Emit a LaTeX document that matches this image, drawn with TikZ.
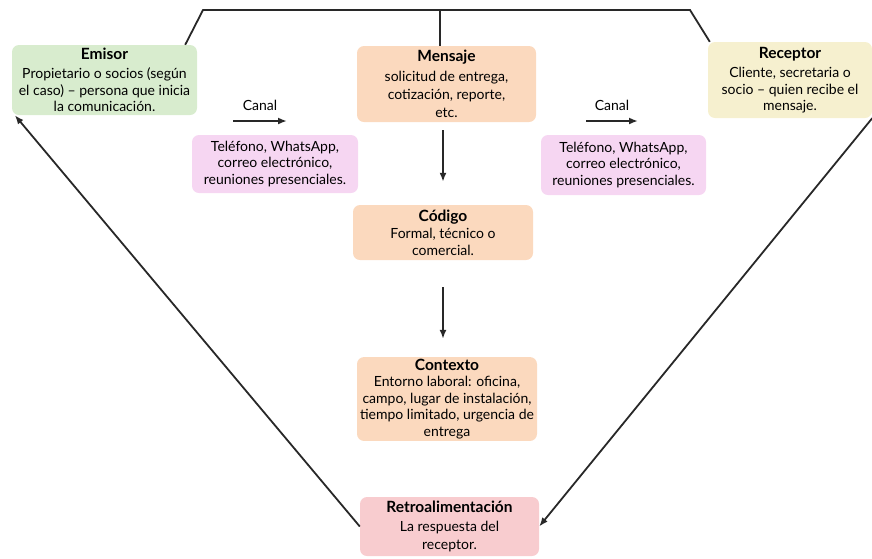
\documentclass[tikz,border=0pt]{standalone}
\usepackage{fontspec}
\setmainfont{Lato}
\usetikzlibrary{arrows.meta}
\definecolor{emisorfill}{RGB}{216,236,206}
\definecolor{mensajefill}{RGB}{251,217,190}
\definecolor{receptorfill}{RGB}{246,240,207}
\definecolor{canalfill}{RGB}{246,214,242}
\definecolor{retrofill}{RGB}{248,204,207}
\definecolor{linecol}{RGB}{40,40,40}
\newcommand{\boxtitle}[1]{{\fontsize{15.5}{16}\selectfont\bfseries #1}}
\tikzset{>={Latex[length=9pt,width=7pt]},
  box/.style = {rounded corners=7pt, align=center, inner sep=2pt,
    font=\fontsize{14}{16.5}\selectfont},
  line/.style = {draw=linecol, line width=1.8pt}
}

\begin{document}
\begin{tikzpicture}[x=1pt,y=-1pt]
  \useasboundingbox (0,0) rectangle (872,558);
  % boxes
  \node[box,fill=emisorfill,minimum width=185pt,minimum height=70pt] (emisor) at (104.5,80)
    {\boxtitle{Emisor}\\[3pt]Propietario o socios (según\\el caso) -- persona que inicia\\la comunicación.};
  \node[box,fill=mensajefill,minimum width=179pt,minimum height=76pt] (mensaje) at (446.5,84)
    {\boxtitle{Mensaje}\\[3pt]solicitud de entrega,\\[1.5pt]cotización, reporte,\\[1.5pt]etc.};
  \node[box,fill=receptorfill,minimum width=164pt,minimum height=76pt] (receptor) at (790,80)
    {\boxtitle{Receptor}\\[3pt]Cliente, secretaria o\\socio -- quien recibe el\\mensaje.};
  \node[box,fill=canalfill,minimum width=166pt,minimum height=58pt] (medios1) at (275,164)
    {Teléfono, WhatsApp,\\correo electrónico,\\reuniones presenciales.};
  \node[box,fill=canalfill,minimum width=165pt,minimum height=60pt] (medios2) at (623.5,165)
    {Teléfono, WhatsApp,\\correo electrónico,\\reuniones presenciales.};
  \node[box,fill=mensajefill,minimum width=180pt,minimum height=55pt] (codigo) at (443,232.5)
    {\boxtitle{Código}\\[1pt]Formal, técnico o\\comercial.};
  \node[box,fill=mensajefill,minimum width=180pt,minimum height=82pt] (contexto) at (447,399)
    {\boxtitle{Contexto}\\[0pt]Entorno laboral: oficina,\\campo, lugar de instalación,\\tiempo limitado, urgencia de\\entrega};
  \node[box,fill=retrofill,minimum width=179pt,minimum height=59pt] (retro) at (449.5,526.5)
    {\boxtitle{Retroalimentación}\\[2pt]La respuesta del\\[2pt]receptor.};
  % canal
  \node[box] (canal1) at (260,105) {Canal};
  \node[box] (canal2) at (612,105) {Canal};
  \coordinate (c1a) at (233,121); \coordinate (c1b) at (287,121);
  \coordinate (c2a) at (586,121); \coordinate (c2b) at (638,121);
  \draw[line,->] (c1a) -- (c1b);
  \draw[line,->] (c2a) -- (c2b);
  % top bracket
  \coordinate (topL) at (203,10);
  \coordinate (topM) at (440,10);
  \coordinate (topR) at (690,10);
  \draw[line] ([xshift=-12pt]emisor.north east) -- (topL) -- (topR) -- ([xshift=2pt]receptor.north west);
  \draw[line] (topM) -- (topM |- mensaje.north);
  % flow
  \draw[line,->,shorten <=8pt,shorten >=23pt] (mensaje.south -| codigo) -- (codigo.north);
  \draw[line,->,shorten <=27pt,shorten >=18pt] (codigo.south) -- (codigo.south |- contexto.north);
  % feedback
  \draw[line,->] (receptor.south east) -- (retro.east);
  \draw[line,->] (retro.west) -- ([xshift=3pt]emisor.south west);
\end{tikzpicture}
\end{document}
